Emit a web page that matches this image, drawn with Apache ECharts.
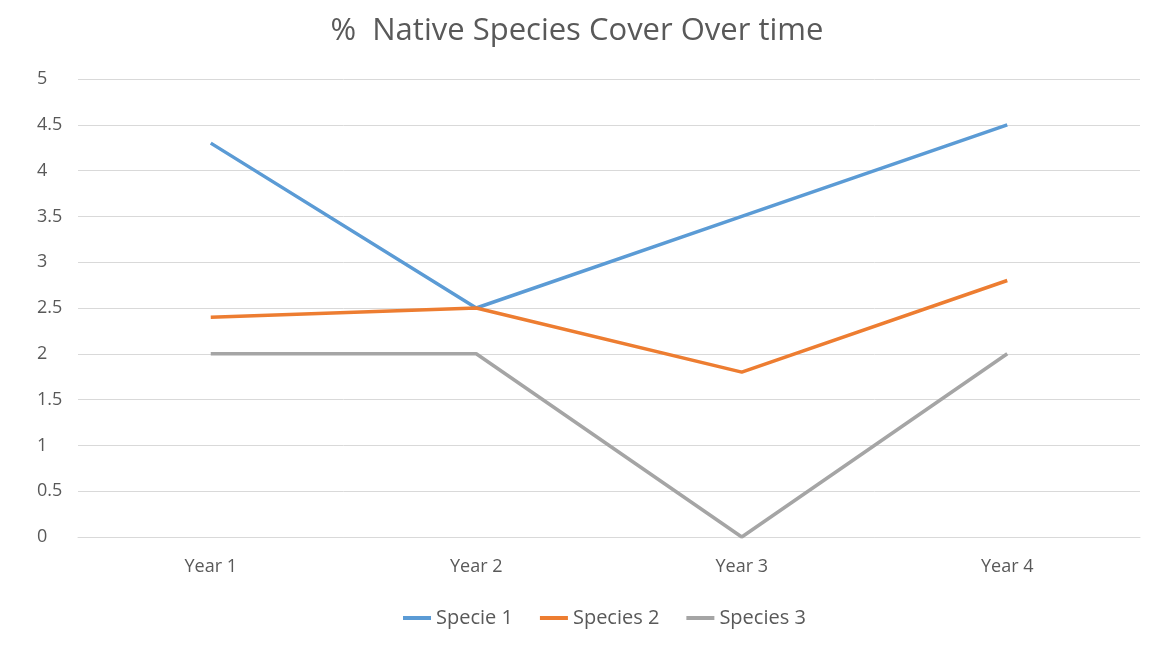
<!DOCTYPE html>
<html>
<head>
<meta charset="utf-8">
<script src="https://cdn.jsdelivr.net/npm/echarts@6/dist/echarts.min.js"></script>
<style>
  html, body { margin: 0; padding: 0; background: #ffffff; }
  #chart { width: 1154px; height: 648px; }
</style>
</head>
<body>
<div id="chart"></div>
<script>
// Categories and series values
const years = ['Year 1', 'Year 2', 'Year 3', 'Year 4'];
const specie1 = [4.3, 2.5, 3.5, 4.5];
const species2 = [2.4, 2.5, 1.8, 2.8];
const species3 = [2, 2, 0, 2];
const seriesNames = ['Specie 1', 'Species 2', 'Species 3'];
const seriesColors = ['#5B9BD5', '#ED7D31', '#A5A5A5'];

const font = '"Open Sans", "Liberation Sans", sans-serif';
const textColor = '#595959';

const chart = echarts.init(document.getElementById('chart'));

function lineSeries(name, data, color) {
  return {
    name: name,
    type: 'line',
    data: data,
    symbol: 'none',
    lineStyle: { width: 3.5, color: color },
    itemStyle: { color: color },
    animation: false
  };
}

chart.setOption({
  backgroundColor: '#ffffff',
  title: {
    text: '%  Native Species Cover Over time',
    left: 'center',
    top: 11,
    textStyle: { fontFamily: font, fontSize: 31, fontWeight: 'normal', color: textColor }
  },
  legend: {
    data: seriesNames,
    bottom: 15,
    left: 398,
    itemWidth: 28,
    itemHeight: 4,
    itemGap: 27,
    icon: 'rect',
    textStyle: { fontFamily: font, fontSize: 20, color: textColor }
  },
  grid: { left: 78, right: 14, top: 79, bottom: 111 },
  xAxis: {
    type: 'category',
    data: years,
    boundaryGap: true,
    axisLine: { show: true, lineStyle: { color: '#D9D9D9', width: 1 } },
    axisTick: { show: false },
    axisLabel: { fontFamily: font, fontSize: 18, color: textColor, margin: 21 }
  },
  yAxis: {
    type: 'value',
    min: 0,
    max: 5,
    interval: 0.5,
    axisLine: { show: false },
    axisTick: { show: false },
    axisLabel: { fontFamily: font, fontSize: 18, color: textColor, align: 'left', margin: 41 },
    splitLine: { lineStyle: { color: '#D9D9D9', width: 1 } }
  },
  series: [
    lineSeries(seriesNames[0], specie1, seriesColors[0]),
    lineSeries(seriesNames[1], species2, seriesColors[1]),
    lineSeries(seriesNames[2], species3, seriesColors[2])
  ]
});
</script>
</body>
</html>
